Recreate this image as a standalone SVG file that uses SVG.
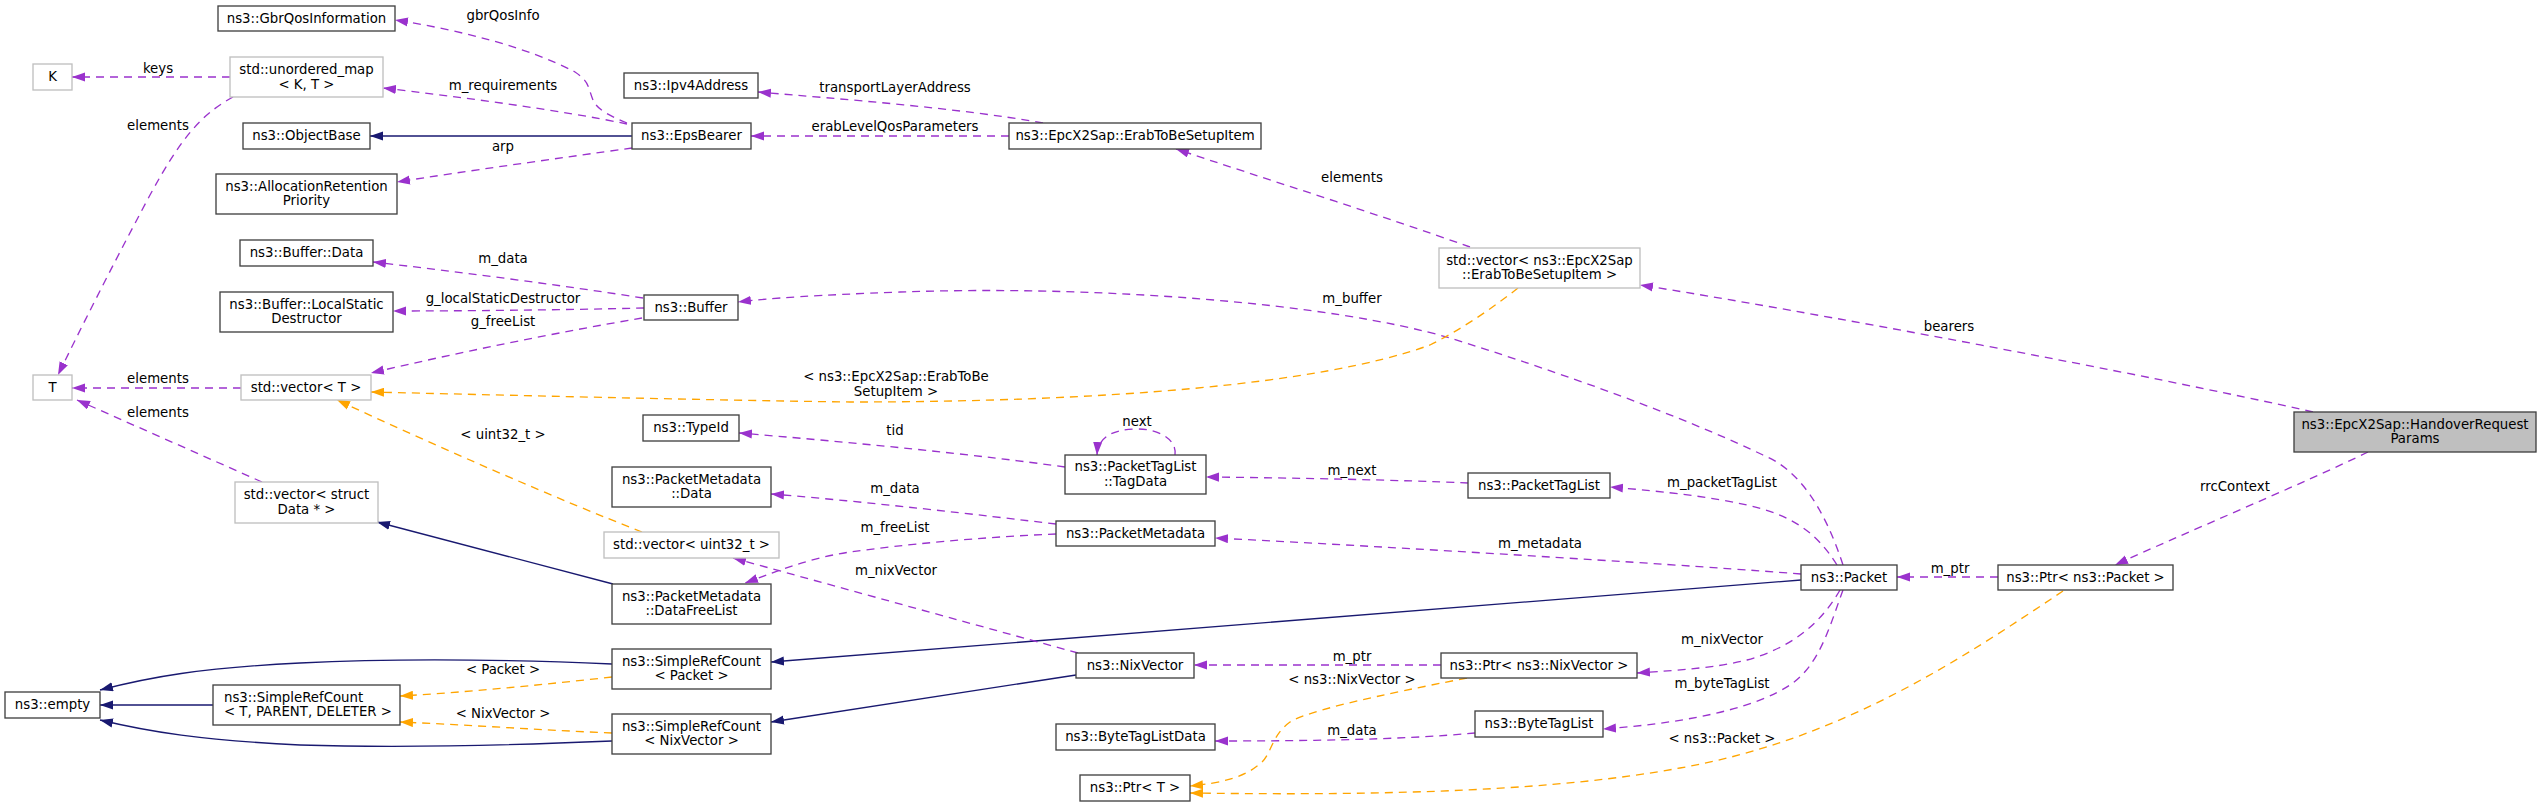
<svg xmlns="http://www.w3.org/2000/svg" width="2541" height="807" viewBox="0 0 2541 807">
<style>
text{font-family:"DejaVu Sans","Liberation Sans",sans-serif;font-size:13.3px;fill:#000}
.n rect{fill:#fff;stroke:#404040;stroke-width:1.33}
.g rect{fill:#fff;stroke:#bfbfbf;stroke-width:1.33}
.c text{text-anchor:middle}
.p{fill:none;stroke:#9a32cd;stroke-width:1.33;stroke-dasharray:8,6;marker-end:url(#ap)}
.o{fill:none;stroke:#ffa500;stroke-width:1.33;stroke-dasharray:8,6;marker-end:url(#ao)}
.b{fill:none;stroke:#191970;stroke-width:1.33;marker-end:url(#ab)}
.lbl text{text-anchor:middle}
</style>
<defs>
<marker id="ap" viewBox="0 0 10 7" refX="10" refY="3.5" markerWidth="13" markerHeight="9.4" markerUnits="userSpaceOnUse" orient="auto"><path d="M0,0 L10,3.5 L0,7 z" fill="#9a32cd"/></marker>
<marker id="ao" viewBox="0 0 10 7" refX="10" refY="3.5" markerWidth="13" markerHeight="9.4" markerUnits="userSpaceOnUse" orient="auto"><path d="M0,0 L10,3.5 L0,7 z" fill="#ffa500"/></marker>
<marker id="ab" viewBox="0 0 10 7" refX="10" refY="3.5" markerWidth="13" markerHeight="9.4" markerUnits="userSpaceOnUse" orient="auto"><path d="M0,0 L10,3.5 L0,7 z" fill="#191970"/></marker>
</defs>
<rect width="2541" height="807" fill="#fff"/>
<g id="connectors">
<path class="p" d="M627,123 C612,117 597,110 593,100 C588,88 590,82 575,72 C530,48 460,30 395,20"/>
<path class="p" d="M627,124 C560,110 460,97 383,88"/>
<path class="b" d="M632,136 L370,136"/>
<path class="p" d="M632,148 C560,158 460,172 397,182"/>
<path class="p" d="M1043,123 C960,108 840,99 758,92"/>
<path class="p" d="M1009,136 L751,136"/>
<path class="p" d="M1470,247 C1380,215 1260,177 1176,149"/>
<path class="p" d="M2313,412 C2150,375 1800,310 1640,285"/>
<path class="p" d="M2368,452 C2300,485 2180,535 2115,565"/>
<path class="p" d="M1998,577 L1897,577"/>
<path class="o" d="M2063,591 C1960,660 1840,740 1680,768 C1560,790 1400,796 1190,793"/>
<path class="o" d="M1467,678 C1380,695 1310,710 1290,722 C1272,735 1272,752 1262,762 C1245,778 1220,783 1190,786"/>
<path class="p" d="M1840,590 C1820,625 1790,648 1747,660 C1715,668 1680,670 1637,673"/>
<path class="p" d="M1843,590 C1830,625 1820,665 1790,685 C1760,705 1700,722 1603,729"/>
<path class="p" d="M1475,733 C1400,740 1300,741 1215,741"/>
<path class="p" d="M1441,665 L1194,665"/>
<path class="p" d="M1837,565 C1815,530 1790,515 1747,505 C1710,497 1670,492 1610,487"/>
<path class="p" d="M1801,574 C1700,566 1450,550 1215,538"/>
<path class="p" d="M1843,565 C1825,510 1800,470 1763,455 C1700,425 1600,385 1450,338 C1330,303 1100,285 900,292 C820,295 770,298 738,302"/>
<path class="b" d="M1801,580 L771,662"/>
<path class="b" d="M1076,675 L771,722"/>
<path class="p" d="M1468,483 C1400,480 1300,478 1206,477"/>
<path class="p" d="M1175,455 C1177,440 1160,429 1137,429 C1115,429 1098,436 1097,455"/>
<path class="p" d="M1065,467 C980,455 850,442 739,433"/>
<path class="p" d="M1056,524 C980,515 870,502 771,494"/>
<path class="p" d="M1056,534 C980,537 900,545 850,552 C810,558 780,570 745,583"/>
<path class="p" d="M1078,653 L733,558"/>
<path class="b" d="M613,584 L377,522"/>
<path class="p" d="M262,482 L77,400"/>
<path class="o" d="M642,532 C560,500 440,448 337,400"/>
<path class="p" d="M241,388 L72,388"/>
<path class="p" d="M233,97 C200,115 180,140 150,195 C110,270 80,330 58,375"/>
<path class="p" d="M230,77 L72,77"/>
<path class="p" d="M643,298 C560,285 460,272 373,262"/>
<path class="p" d="M644,308 C560,310 460,311 393,311"/>
<path class="p" d="M642,318 C560,332 460,352 371,373"/>
<path class="o" d="M1518,288 C1490,310 1460,330 1430,345 C1320,385 1100,402 850,402 C700,400 500,395 371,392"/>
<path class="o" d="M612,677 C540,685 470,692 400,696"/>
<path class="o" d="M612,733 C540,730 470,725 400,722"/>
<path class="b" d="M612,664 C520,660 400,658 300,663 C200,668 150,677 100,690"/>
<path class="b" d="M213,705 L100,705"/>
<path class="b" d="M612,741 C520,745 400,748 300,745 C200,740 150,732 100,720"/>
<g class="lbl">
<text x="503" y="20">gbrQosInfo</text>
<text x="503" y="90">m_requirements</text>
<text x="503" y="151">arp</text>
<text x="895" y="92">transportLayerAddress</text>
<text x="895" y="131">erabLevelQosParameters</text>
<text x="1352" y="182">elements</text>
<text x="1949" y="331">bearers</text>
<text x="2235" y="491">rrcContext</text>
<text x="1950" y="573">m_ptr</text>
<text x="1722" y="743">&lt; ns3::Packet &gt;</text>
<text x="1352" y="684">&lt; ns3::NixVector &gt;</text>
<text x="1722" y="644">m_nixVector</text>
<text x="1722" y="688">m_byteTagList</text>
<text x="1352" y="735">m_data</text>
<text x="1352" y="661">m_ptr</text>
<text x="1722" y="487">m_packetTagList</text>
<text x="1540" y="548">m_metadata</text>
<text x="1352" y="303">m_buffer</text>
<text x="1352" y="475">m_next</text>
<text x="1137" y="426">next</text>
<text x="895" y="435">tid</text>
<text x="895" y="493">m_data</text>
<text x="895" y="532">m_freeList</text>
<text x="896" y="575">m_nixVector</text>
<text x="158" y="417">elements</text>
<text x="503" y="439">&lt; uint32_t &gt;</text>
<text x="158" y="383">elements</text>
<text x="158" y="130">elements</text>
<text x="158" y="73">keys</text>
<text x="503" y="263">m_data</text>
<text x="503" y="303">g_localStaticDestructor</text>
<text x="503" y="326">g_freeList</text>
<text x="896" y="381">&lt; ns3::EpcX2Sap::ErabToBe</text>
<text x="896" y="396">SetupItem &gt;</text>
<text x="503" y="674">&lt; Packet &gt;</text>
<text x="503" y="718">&lt; NixVector &gt;</text>
</g>
</g>
<g id="n1" class="n c"><rect x="218" y="6" width="177" height="25"/><text x="306.5" y="22.5">ns3::GbrQosInformation</text></g>
<g id="n2" class="g c"><rect x="230" y="57" width="153" height="40"/><text x="306.5" y="74">std::unordered_map</text><text x="306.5" y="88.5">&lt; K, T &gt;</text></g>
<g id="n3" class="g c"><rect x="33" y="64" width="39" height="26"/><text x="52.5" y="81">K</text></g>
<g id="n4" class="n c"><rect x="243" y="123" width="127" height="26"/><text x="306.5" y="140">ns3::ObjectBase</text></g>
<g id="n5" class="n c"><rect x="216" y="174" width="181" height="40"/><text x="306.5" y="190.7">ns3::AllocationRetention</text><text x="306.5" y="205.3">Priority</text></g>
<g id="n6" class="n c"><rect x="240" y="240" width="133" height="26"/><text x="306.5" y="257">ns3::Buffer::Data</text></g>
<g id="n7" class="n c"><rect x="220" y="292" width="173" height="40"/><text x="306.5" y="308.7">ns3::Buffer::LocalStatic</text><text x="306.5" y="323.3">Destructor</text></g>
<g id="n8" class="g c"><rect x="33" y="375" width="39" height="25"/><text x="52.5" y="392">T</text></g>
<g id="n9" class="g c"><rect x="241" y="375" width="130" height="25"/><text x="306" y="392">std::vector&lt; T &gt;</text></g>
<g id="n10" class="g c"><rect x="235" y="482" width="143" height="41"/><text x="306.5" y="499">std::vector&lt; struct</text><text x="306.5" y="513.5">Data * &gt;</text></g>
<g id="n11" class="n c"><rect x="5" y="692" width="95" height="26"/><text x="52.5" y="709">ns3::empty</text></g>
<g id="n12" class="n"><rect x="213" y="685" width="187" height="40"/><text x="224" y="701.7">ns3::SimpleRefCount</text><text x="224" y="716.3">&lt; T, PARENT, DELETER &gt;</text></g>
<g id="n13" class="n c"><rect x="624" y="73" width="134" height="25"/><text x="691" y="90">ns3::Ipv4Address</text></g>
<g id="n14" class="n c"><rect x="632" y="123" width="119" height="26"/><text x="691.5" y="140">ns3::EpsBearer</text></g>
<g id="n15" class="n c"><rect x="644" y="295" width="94" height="25"/><text x="691" y="312">ns3::Buffer</text></g>
<g id="n16" class="n c"><rect x="643" y="415" width="96" height="26"/><text x="691" y="432">ns3::TypeId</text></g>
<g id="n17" class="n c"><rect x="612" y="467" width="159" height="40"/><text x="691.5" y="483.7">ns3::PacketMetadata</text><text x="691.5" y="498.3">::Data</text></g>
<g id="n18" class="g c"><rect x="604" y="532" width="175" height="26"/><text x="691.5" y="549">std::vector&lt; uint32_t &gt;</text></g>
<g id="n19" class="n c"><rect x="612" y="584" width="159" height="40"/><text x="691.5" y="600.7">ns3::PacketMetadata</text><text x="691.5" y="615.3">::DataFreeList</text></g>
<g id="n20" class="n c"><rect x="612" y="649" width="159" height="40"/><text x="691.5" y="665.7">ns3::SimpleRefCount</text><text x="691.5" y="680.3">&lt; Packet &gt;</text></g>
<g id="n21" class="n c"><rect x="612" y="714" width="159" height="40"/><text x="691.5" y="730.7">ns3::SimpleRefCount</text><text x="691.5" y="745.3">&lt; NixVector &gt;</text></g>
<g id="n22" class="n c"><rect x="1009" y="123" width="252" height="26"/><text x="1135" y="140">ns3::EpcX2Sap::ErabToBeSetupItem</text></g>
<g id="n23" class="n c"><rect x="1065" y="455" width="141" height="39"/><text x="1135.5" y="471.3">ns3::PacketTagList</text><text x="1135.5" y="485.9">::TagData</text></g>
<g id="n24" class="n c"><rect x="1056" y="521" width="159" height="25"/><text x="1135.5" y="538">ns3::PacketMetadata</text></g>
<g id="n25" class="n c"><rect x="1076" y="653" width="118" height="25"/><text x="1135" y="670">ns3::NixVector</text></g>
<g id="n26" class="n c"><rect x="1056" y="724" width="159" height="26"/><text x="1135.5" y="741">ns3::ByteTagListData</text></g>
<g id="n27" class="n c"><rect x="1080" y="775" width="110" height="26"/><text x="1135" y="792">ns3::Ptr&lt; T &gt;</text></g>
<g id="n28" class="g c"><rect x="1439" y="248" width="201" height="40"/><text x="1539.5" y="264.7">std::vector&lt; ns3::EpcX2Sap</text><text x="1539.5" y="279.3">::ErabToBeSetupItem &gt;</text></g>
<g id="n29" class="n c"><rect x="1468" y="473" width="142" height="25"/><text x="1539" y="490">ns3::PacketTagList</text></g>
<g id="n30" class="n c"><rect x="1441" y="653" width="196" height="25"/><text x="1539" y="670">ns3::Ptr&lt; ns3::NixVector &gt;</text></g>
<g id="n31" class="n c"><rect x="1475" y="711" width="128" height="26"/><text x="1539" y="728">ns3::ByteTagList</text></g>
<g id="n32" class="n c"><rect x="1801" y="565" width="96" height="25"/><text x="1849" y="582">ns3::Packet</text></g>
<g id="n33" class="n c"><rect x="1998" y="565" width="175" height="25"/><text x="2085.5" y="582">ns3::Ptr&lt; ns3::Packet &gt;</text></g>
<g id="n34" class="n c"><rect x="2294" y="412" width="242" height="40" style="fill:#bfbfbf"/><text x="2415" y="428.7">ns3::EpcX2Sap::HandoverRequest</text><text x="2415" y="443.3">Params</text></g>
</svg>
